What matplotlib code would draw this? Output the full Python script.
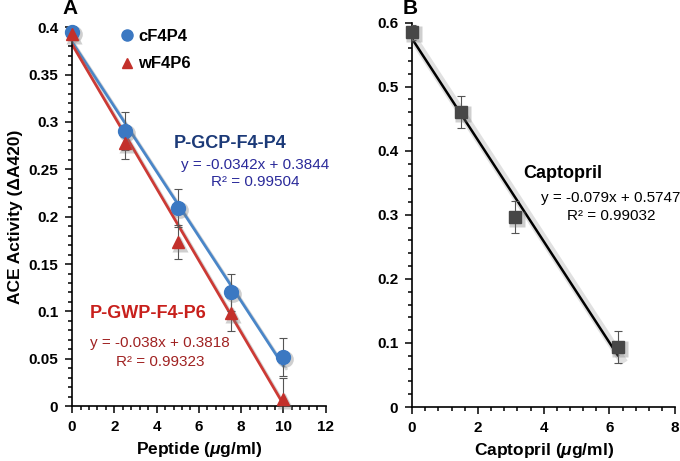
import numpy as np
import matplotlib
matplotlib.use("Agg")
import matplotlib.pyplot as plt
import matplotlib.patheffects as pe
import matplotlib.transforms as mtrans
from matplotlib.ticker import MultipleLocator

plt.rcParams['font.family'] = ['Liberation Sans', 'DejaVu Sans']
plt.rcParams['font.weight'] = 'bold'
plt.rcParams['mathtext.fontset'] = 'custom'
plt.rcParams['mathtext.rm'] = 'Liberation Sans:bold'
plt.rcParams['mathtext.it'] = 'Liberation Sans:bold:italic'

# panel A data
pep_x = [0, 2.5, 5, 7.5, 10]
cf4p4_y = [0.395, 0.290, 0.209, 0.120, 0.052]
cf4p4_err = [0.0, 0.020, 0.020, 0.020, 0.020]
wf4p6_y = [0.393, 0.278, 0.173, 0.098, 0.008]
wf4p6_err = [0.0, 0.017, 0.018, 0.019, 0.022]
cf4p4_fit = (-0.0342, 0.3844)
wf4p6_fit = (-0.038, 0.3818)

# panel B data
cap_x = [0, 1.5, 3.125, 6.25]
cap_y = [0.585, 0.460, 0.297, 0.094]
cap_err = [0.012, 0.025, 0.025, 0.025]
cap_fit = (-0.079, 0.5747)

blue = '#3b78c2'
red = '#c3302b'
shadow = [pe.SimpleLineShadow(offset=(2, -2), shadow_color='#888888', alpha=0.35), pe.Normal()]

fig = plt.figure(figsize=(6.8, 4.61), dpi=100)
axA = fig.add_axes([0.106, 0.119, 0.373, 0.822])
axB = fig.add_axes([0.606, 0.117, 0.387, 0.834])

def style(ax):
    ax.spines['top'].set_visible(False)
    ax.spines['right'].set_visible(False)
    ax.spines['left'].set_linewidth(1.2)
    ax.spines['bottom'].set_linewidth(1.2)
    ax.tick_params(which='both', direction='out', labelsize=11, width=1.1, pad=5)
    ax.tick_params(which='major', length=5)
    ax.tick_params(which='minor', length=3)
    for lab in ax.get_xticklabels() + ax.get_yticklabels():
        lab.set_fontweight('bold')

def marker_shadow(ax, x, y, marker, ms):
    tr = mtrans.offset_copy(ax.transData, fig=fig, x=2, y=-2, units='dots')
    ax.plot(x, y, marker, color='#777777', alpha=0.35, ms=ms + 2, mec='none',
            transform=tr, clip_on=False, zorder=3.5)

# ---- A ----
xf = np.array([0, 10])
axA.plot(xf, cf4p4_fit[0] * xf + cf4p4_fit[1], color='#4a86c8', lw=2, path_effects=shadow, zorder=2)
axA.plot(xf, wf4p6_fit[0] * xf + wf4p6_fit[1], color='#cc3a35', lw=2, path_effects=shadow, zorder=2)
axA.errorbar(pep_x, cf4p4_y, yerr=cf4p4_err, fmt='none', ecolor='#555555', elinewidth=0.8, capsize=3, capthick=0.8, zorder=3)
axA.errorbar(pep_x, wf4p6_y, yerr=wf4p6_err, fmt='none', ecolor='#555555', elinewidth=0.8, capsize=3, capthick=0.8, zorder=3)
marker_shadow(axA, pep_x, cf4p4_y, 'o', 10)
marker_shadow(axA, pep_x, wf4p6_y, '^', 9)
axA.plot(pep_x, cf4p4_y, 'o', color=blue, ms=10, label='cF4P4', clip_on=False, zorder=4)
axA.plot(pep_x, wf4p6_y, '^', color=red, ms=9, label='wF4P6', clip_on=False, zorder=5)
axA.set_xlim(0, 12)
axA.set_ylim(0, 0.4)
axA.xaxis.set_major_locator(MultipleLocator(2))
axA.xaxis.set_minor_locator(MultipleLocator(0.4))
axA.set_yticks([0, 0.05, 0.1, 0.15, 0.2, 0.25, 0.3, 0.35, 0.4])
axA.set_yticklabels(['0', '0.05', '0.1', '0.15', '0.2', '0.25', '0.3', '0.35', '0.4'])
axA.yaxis.set_minor_locator(MultipleLocator(0.01))
style(axA)
axA.set_xlabel('Peptide ($\\mathit{\\mu}$g/ml)', fontsize=12.5, fontweight='bold', labelpad=4)
axA.set_ylabel('ACE Activity (ΔA420)', fontsize=12.5, fontweight='bold', labelpad=4)
axA.legend(loc='upper left', bbox_to_anchor=(0.115, 1.035), frameon=False, handletextpad=0.0,
           handlelength=1.3, labelspacing=0.75, prop={'weight': 'bold', 'size': 12}, markerscale=0.8)
axA.text(7.46, 0.2776, 'P-GCP-F4-P4', color='#1c3a78', fontsize=13, fontweight='bold', ha='center', va='center')
axA.text(8.65, 0.2544, 'y = -0.0342x + 0.3844', color='#2a2a9a', fontsize=11, fontweight='normal', ha='center', va='center')
axA.text(8.65, 0.2364, 'R² = 0.99504', color='#2a2a9a', fontsize=11, fontweight='normal', ha='center', va='center')
axA.text(3.59, 0.0982, 'P-GWP-F4-P6', color='#c8201c', fontsize=13, fontweight='bold', ha='center', va='center')
axA.text(4.16, 0.0665, 'y = -0.038x + 0.3818', color='#a02222', fontsize=11, fontweight='normal', ha='center', va='center')
axA.text(4.16, 0.0464, 'R² = 0.99323', color='#a02222', fontsize=11, fontweight='normal', ha='center', va='center')
fig.text(0.103, 0.982, 'A', fontsize=15, fontweight='bold', ha='center', va='center')

# ---- B ----
xb = np.array([0, 6.25])
axB.plot(xb, cap_fit[0] * xb + cap_fit[1], color='black', lw=1.8, zorder=2,
         path_effects=[pe.SimpleLineShadow(offset=(3, -3), shadow_color='#999999', alpha=0.3, linewidth=6), pe.Normal()])
axB.errorbar(cap_x, cap_y, yerr=cap_err, fmt='none', ecolor='#555555', elinewidth=0.8, capsize=3, capthick=0.8, zorder=3)
marker_shadow(axB, cap_x, cap_y, 's', 9)
axB.plot(cap_x, cap_y, 's', color='#474747', ms=9, clip_on=False, zorder=4)
axB.set_xlim(0, 8)
axB.set_ylim(0, 0.6)
axB.xaxis.set_major_locator(MultipleLocator(2))
axB.xaxis.set_minor_locator(MultipleLocator(0.4))
axB.set_yticks([0, 0.1, 0.2, 0.3, 0.4, 0.5, 0.6])
axB.set_yticklabels(['0', '0.1', '0.2', '0.3', '0.4', '0.5', '0.6'])
axB.yaxis.set_minor_locator(MultipleLocator(0.02))
style(axB)
axB.set_xlabel('Captopril ($\\mathit{\\mu}$g/ml)', fontsize=12.5, fontweight='bold', labelpad=4)
axB.text(4.59, 0.365, 'Captopril', color='black', fontsize=13, fontweight='bold', ha='center', va='center')
axB.text(6.05, 0.327, 'y = -0.079x + 0.5747', color='black', fontsize=11, fontweight='normal', ha='center', va='center')
axB.text(6.05, 0.298, 'R² = 0.99032', color='black', fontsize=11, fontweight='normal', ha='center', va='center')
fig.text(0.603, 0.982, 'B', fontsize=15, fontweight='bold', ha='center', va='center')

fig.savefig('out.png', dpi=100)
